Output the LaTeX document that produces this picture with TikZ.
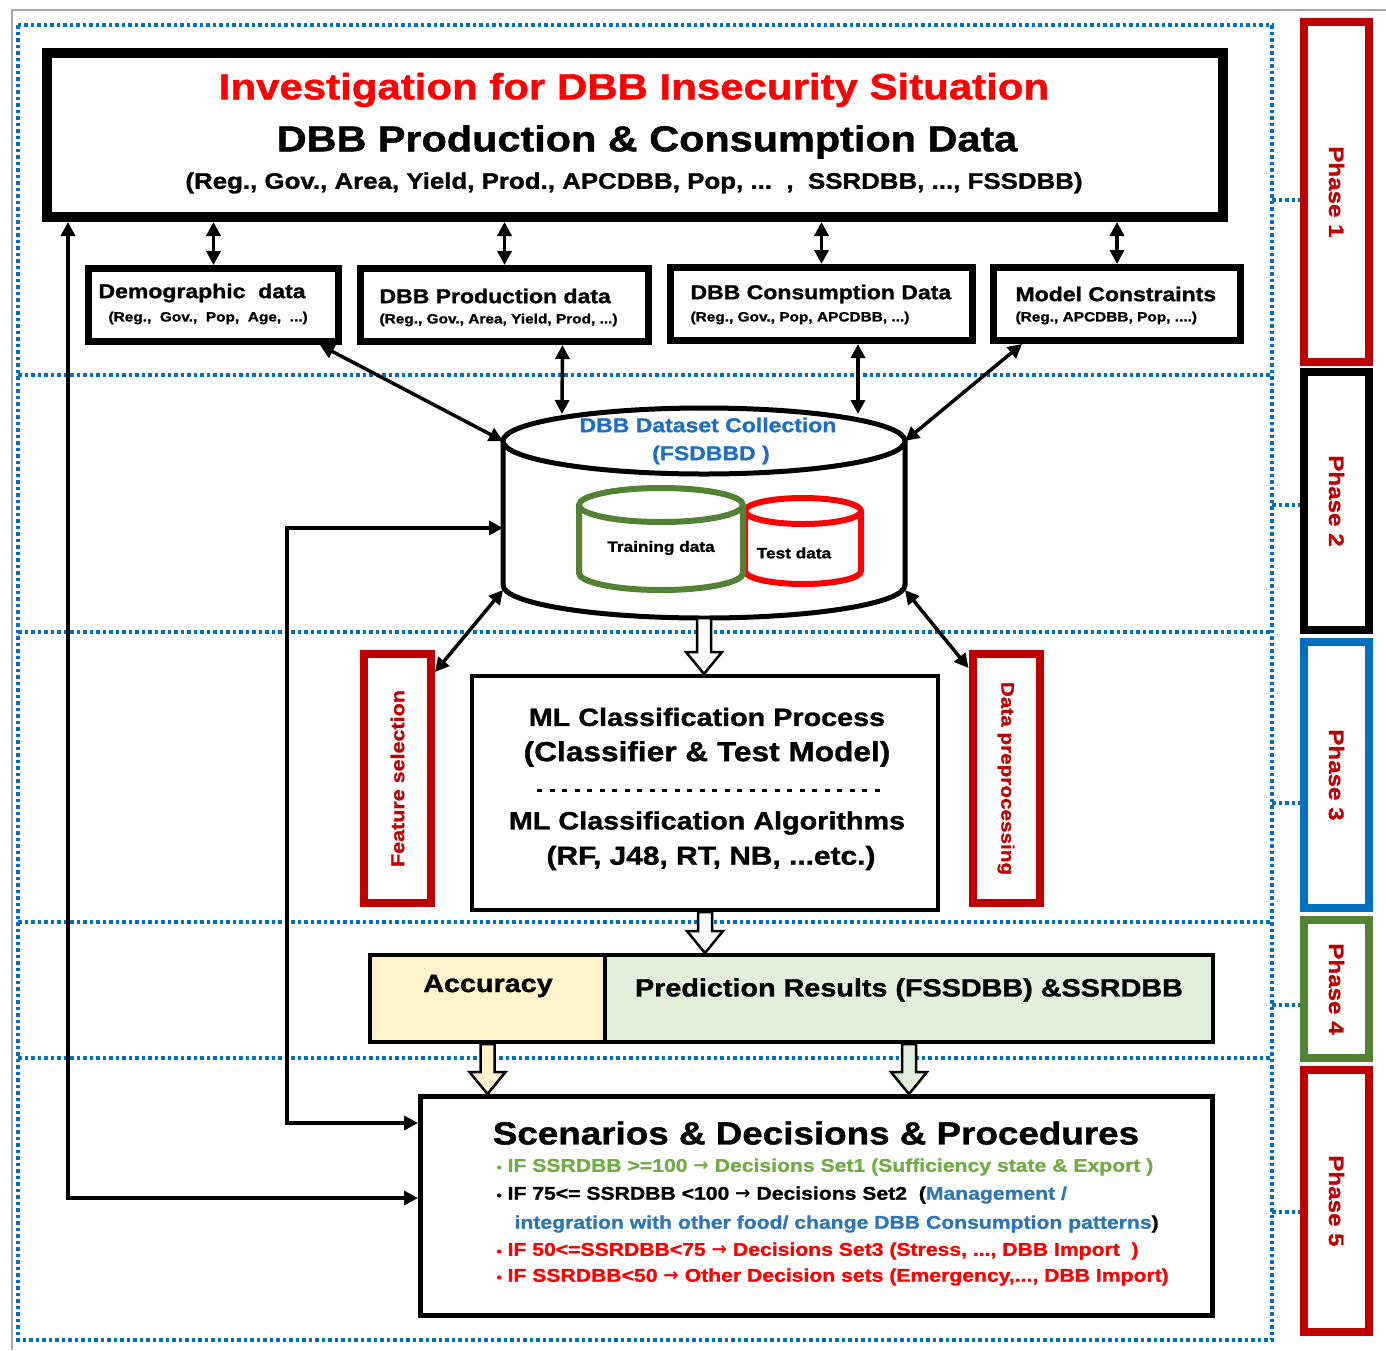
\documentclass[tikz,border=0pt]{standalone}
\usepackage{fontspec}
\setmainfont{Liberation Sans}[FakeStretch=1.15, BoldFeatures={FakeBold=1.2}]
\newfontfamily\arrowfont{DejaVu Sans}
\usetikzlibrary{arrows.meta,calc}
\definecolor{dotblue}{HTML}{0070C0}
\definecolor{phred}{HTML}{C00000}
\definecolor{titred}{HTML}{FF0000}
\definecolor{bgreen}{HTML}{70AD47}
\definecolor{tgreen}{HTML}{548235}
\definecolor{tblue}{HTML}{2E75B6}
\definecolor{cblue}{HTML}{1F6FC0}
\definecolor{cream}{HTML}{FFF2CC}
\definecolor{lgreen}{HTML}{E2EFDA}
\newcommand\fs[1]{\fontsize{#1}{#1}\selectfont}
\newcommand\rarr{{\arrowfont\bfseries →}}
\newcommand\bul{{\fs{13}•}}
\newcommand\cyl[6]{%
  \filldraw[#1] (#2-#3,#4) -- (#2-#3,#5) .. controls (#2-#3,#5+0.5523*#6) and (#2-0.5523*#3,#5+#6) .. (#2,#5+#6)
     .. controls (#2+0.5523*#3,#5+#6) and (#2+#3,#5+0.5523*#6) .. (#2+#3,#5) -- (#2+#3,#4);
  \filldraw[#1] (#2,#4) ellipse ({#3} and {#6});
}
\newcommand\fatarrow[3]{%
  \filldraw[fill=#3, line width=2.5pt, line join=miter] let \p1=(#1), \p2=(#2) in
   (\x1-7pt,\y1) -- (\x1-7pt,\y2+22pt) -- (\x1-18pt,\y2+22pt) -- (\x1,\y2) -- (\x1+18pt,\y2+22pt) -- (\x1+7pt,\y2+22pt) -- (\x1+7pt,\y1) -- cycle;
}
\begin{document}
\begin{tikzpicture}[x=1pt,y=-1pt,font=\bfseries,
  dotline/.style={dotblue, line width=3.5pt, dash pattern=on 3.5pt off 3pt},
  dbox/.style={draw, line width=7pt, inner sep=0pt, minimum height=73pt},
  phbox/.style={draw, line width=8pt, inner sep=0pt, minimum width=65pt},
  phtext/.style={text=phred, font=\bfseries\fs{21}, rotate=-90},
  arr/.style={line width=3.5pt, {Triangle[length=14pt,width=14pt]}-{Triangle[length=14pt,width=14pt]}},
  blank/.style={inner sep=0pt, outer sep=0pt}
]
\useasboundingbox (0,0) rectangle (1386,1350);
% frames
\draw[gray!70, line width=1.5pt] (12,1350) -- (12,10) -- (1386,10);
\draw[dotline] (18,25) rectangle (1272,1340);
\foreach \yy in {375,632,922,1058} \draw[dotline] (18,\yy) -- (1272,\yy);

% phase boxes
\node[phbox, draw=phred, minimum height=340pt] (p1) at (1336.5,192) {};
\node[phbox, draw=black, minimum height=258pt] (p2) at (1336.5,501) {};
\node[phbox, draw=dotblue, minimum height=266pt] (p3) at (1336.5,775) {};
\node[phbox, draw=tgreen, minimum height=138pt] (p4) at (1336.5,989) {};
\node[phbox, draw=phred, minimum height=262pt] (p5) at (1336.5,1201) {};
\node[phtext] (p1t) at (p1) {Phase 1};
\node[phtext] (p2t) at (p2) {Phase 2};
\node[phtext] (p3t) at (p3) {Phase 3};
\node[phtext] (p4t) at (p4) {Phase 4};
\node[phtext] (p5t) at (p5) {Phase 5};
\draw[dotline] (1272,200) -- (p1.west |- 0,200);
\draw[dotline] (1272,505) -- (p2.west |- 0,505);
\draw[dotline] (1272,803) -- (p3.west |- 0,803);
\draw[dotline] (1272,1005) -- (p4.west |- 0,1005);
\draw[dotline] (1272,1212) -- (p5.west |- 0,1212);

% top box
\node[draw, line width=10pt, inner sep=0pt, minimum width=1176pt, minimum height=164pt, fill=white] (top) at (635,135) {};
\node[text=titred, font=\bfseries\fs{36.5}] (t1) at (634,90) {Investigation for DBB Insecurity Situation};
\node[font=\bfseries\fs{36}] (t2) at (647,142) {DBB Production \& Consumption Data};
\node[font=\bfseries\fs{22.5}] (t3) at (634,183) {(Reg., Gov., Area, Yield, Prod., APCDBB, Pop, ...\ \ ,\ \ SSRDBB, ..., FSSDBB)};

% data boxes
\node[dbox, minimum width=250pt] (d1) at (213.5,305) {};
\node[dbox, minimum width=288pt] (d2) at (504.5,305) {};
\node[dbox, minimum width=302pt] (d3) at (821.5,304) {};
\node[dbox, minimum width=247pt] (d4) at (1117,304) {};
\node[anchor=west, font=\bfseries\fs{20}] (d1t) at (95,293) {Demographic\ \ data};
\node[anchor=west, font=\bfseries\fs{13.4}] (d1s) at (105,318) {(Reg.,\ \ Gov.,\ \ Pop,\ \ Age,\ \ ...)};
\node[anchor=west, font=\bfseries\fs{20}] (d2t) at (376,296) {DBB Production data};
\node[anchor=west, font=\bfseries\fs{13.4}] (d2s) at (376,320) {(Reg., Gov., Area, Yield, Prod, ...)};
\node[anchor=west, font=\bfseries\fs{20}] (d3t) at (687,294) {DBB Consumption Data};
\node[anchor=west, font=\bfseries\fs{13.4}] (d3s) at (687,318) {(Reg., Gov., Pop, APCDBB, ...)};
\node[anchor=west, font=\bfseries\fs{20}] (d4t) at (1012,294) {Model Constraints};
\node[anchor=west, font=\bfseries\fs{13.4}] (d4s) at (1012,318) {(Reg., APCDBB, Pop, ....)};

\foreach \d in {d1,d2,d3,d4} \draw[arr] (\d.north) -- (\d.north |- top.south);

% database cylinder
\node[blank, minimum width=402pt, minimum height=210pt] (db) at (704,513) {};
\cyl{draw=black, line width=5pt, fill=white}{704}{201}{441}{585}{33}
\node[text=cblue, font=\bfseries\fs{20}] (dbt) at (708,425) {DBB Dataset Collection};
\node[text=cblue, font=\bfseries\fs{20}] (dbt2) at (711,455) {(FSDBBD )};
\cyl{draw=red, line width=6pt, fill=white}{803}{58}{511}{571}{13}
\cyl{draw=tgreen, line width=6pt, fill=white}{661}{82}{505}{573}{17}
\node[font=\bfseries\fs{15}] (trn) at (661,548) {Training data};
\node[font=\bfseries\fs{15}] (tst) at (794,553) {Test data};
\coordinate (dbL) at (503,441);
\coordinate (dbR) at (905,441);
\coordinate (dbA) at (562,414);
\coordinate (dbB) at (858,414);
\coordinate (dbLL) at (503,590);
\coordinate (dbRR) at (905,590);

\draw[arr] ($(d1.south east)+(-22,0)$) -- (dbL);
\draw[arr] ($(d2.south)+(58,0)$) -- (dbA);
\draw[arr] ($(d3.south)+(36.5,0)$) -- (dbB);
\draw[arr] ($(d4.south west)+(32,0)$) -- (dbR);

% feature selection / data preprocessing
\node[draw=phred, line width=8pt, inner sep=0pt, minimum width=67pt, minimum height=249pt] (fs) at (397.5,778.5) {};
\node[text=phred, rotate=90, font=\bfseries\fs{18.7}] (fst) at (fs) {Feature selection};
\node[draw=phred, line width=8pt, inner sep=0pt, minimum width=67pt, minimum height=249pt] (dp) at (1006,778.5) {};
\node[text=phred, rotate=-90, font=\bfseries\fs{18}] (dpt) at (dp) {Data preprocessing};
\draw[arr] (dbLL) -- ($(fs.north east)+(0,22)$);
\draw[arr] (dbRR) -- ($(dp.north west)+(0,18)$);

% ML box
\node[draw, line width=4pt, inner sep=0pt, minimum width=466pt, minimum height=234pt] (ml) at (705,793) {};
\node[font=\bfseries\fs{25}] (m1) at (707,717) {ML Classification Process};
\node[font=\bfseries\fs{27.5}] (m2) at (707,754) {(Classifier \& Test Model)};
\draw[line width=3pt, dash pattern=on 5pt off 7.5pt] (537,790) -- (880,790);
\node[font=\bfseries\fs{25}] (m3) at (707,823) {ML Classification Algorithms};
\node[font=\bfseries\fs{26}] (m4) at (711,858) {(RF, J48, RT, NB, ...etc.)};

% accuracy / prediction
\node[draw, line width=4pt, fill=cream, inner sep=0pt, minimum width=235pt, minimum height=87pt] (acc) at (487.5,998.5) {};
\node[draw, line width=4pt, fill=lgreen, inner sep=0pt, minimum width=608pt, minimum height=87pt] (pred) at (909,998.5) {};
\node[font=\bfseries\fs{25}] (acct) at (488,986) {Accuracy};
\node[font=\bfseries\fs{25}] (predt) at (909,990) {Prediction Results (FSSDBB) \&SSRDBB};

% scenarios
\node[draw, line width=5pt, inner sep=0pt, minimum width=792pt, minimum height=219pt] (sc) at (816.5,1206) {};
\node[font=\bfseries\fs{32}] (sct) at (816,1133) {Scenarios \& Decisions \& Procedures};
\node[anchor=west, text=bgreen, font=\bfseries\fs{18.4}] (b1) at (493,1167) {\bul\ IF SSRDBB >=100 \rarr\ Decisions Set1 (Sufficiency state \& Export )};
\node[anchor=west, font=\bfseries\fs{18.4}] (b2) at (493,1195) {\bul\ IF 75<= SSRDBB <100 \rarr\ Decisions Set2\ \ (\textcolor{tblue}{Management /}};
\node[anchor=west, font=\bfseries\fs{18.4}] (b2b) at (511,1224) {\textcolor{tblue}{integration with other food/ change DBB Consumption patterns})};
\node[anchor=west, text=titred, font=\bfseries\fs{18.4}] (b3) at (493,1251) {\bul\ IF 50<=SSRDBB<75 \rarr\ Decisions Set3 (Stress, ..., DBB Import\ \ )};
\node[anchor=west, text=titred, font=\bfseries\fs{18.4}] (b4) at (493,1277) {\bul\ IF SSRDBB<50 \rarr\ Other Decision sets (Emergency,..., DBB Import)};

% fat arrows
\fatarrow{db.south}{ml.north}{white}
\fatarrow{ml.south}{ml.south |- pred.north}{white}
\fatarrow{acc.south}{acc.south |- sc.north}{cream}
\fatarrow{pred.south}{pred.south |- sc.north}{lgreen}

% loops
\draw[arr] ($(db.west)+(0,15)$) -- ++(-216,0) |- ($(sc.west)+(0,-83)$);
\draw[arr] ($(top.south west)+(26,0)$) |- ($(sc.west)+(0,-8)$);
\end{tikzpicture}
\end{document}
